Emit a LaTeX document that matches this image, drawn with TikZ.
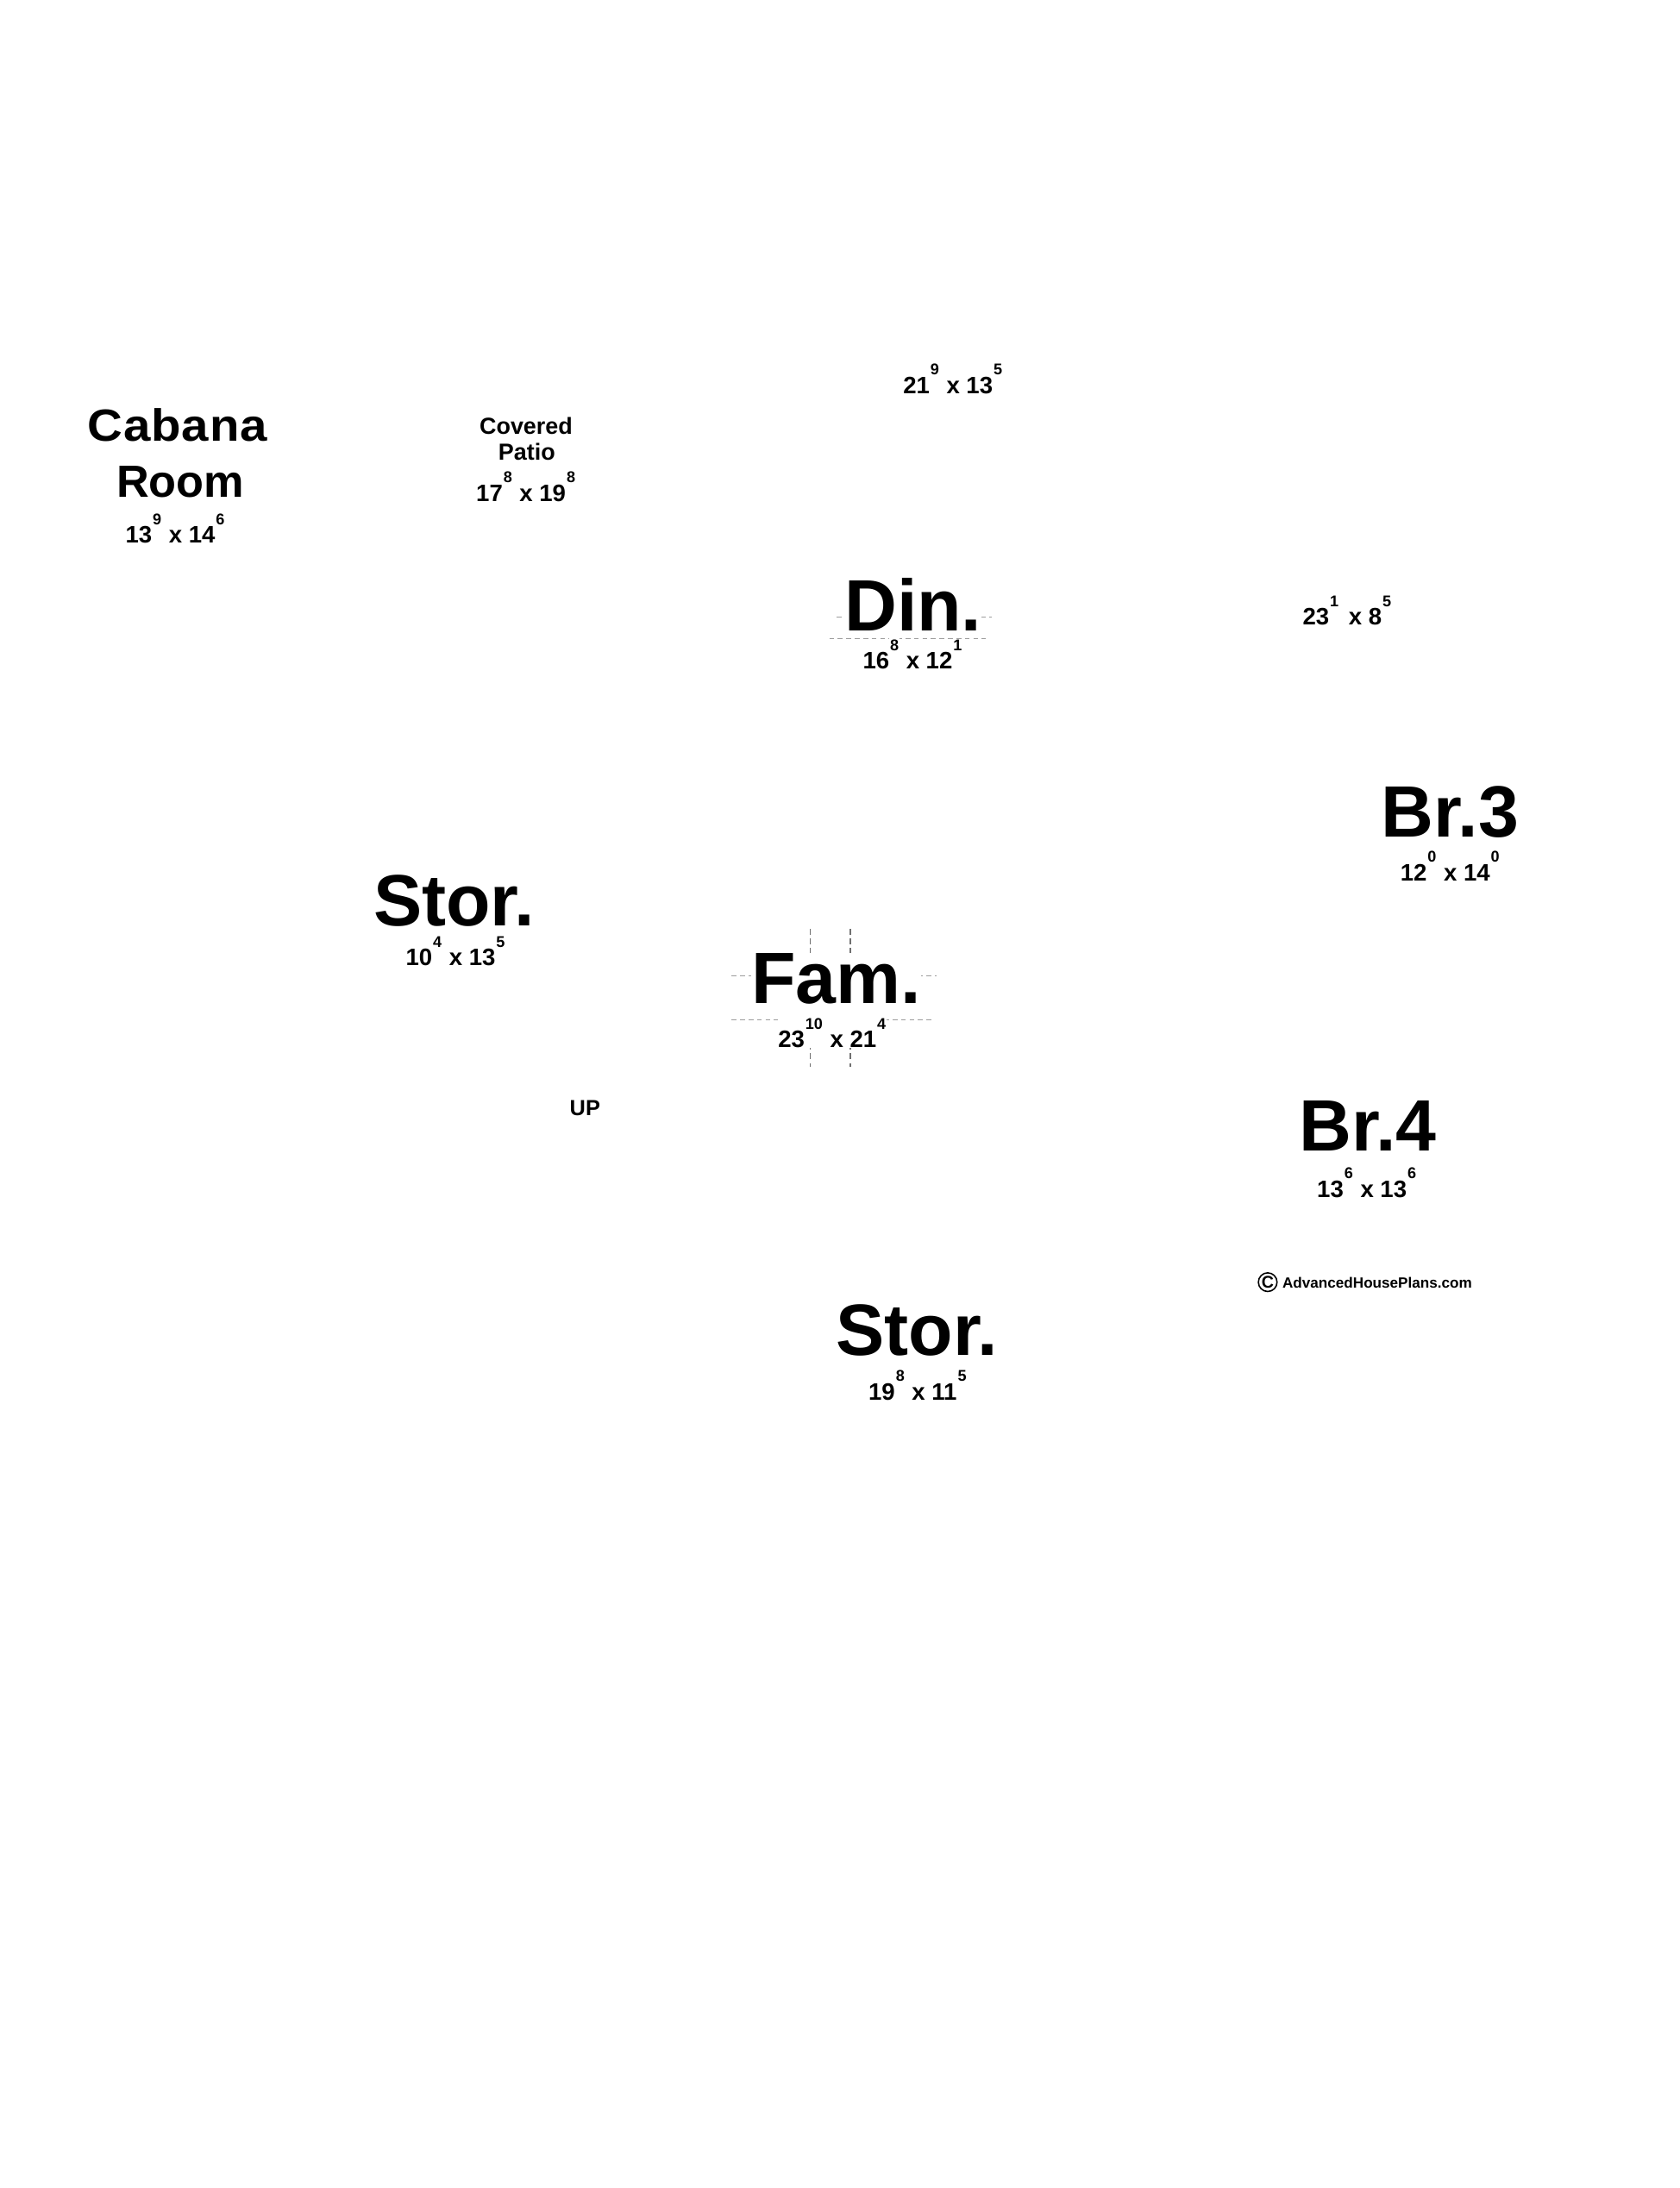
\documentclass[tikz,border=0pt]{standalone}
\usepackage{fontspec}
\setmainfont{Liberation Sans}
\usepackage{xcolor}
\usepackage{tikz}
\definecolor{ink}{HTML}{000000}
\definecolor{guide}{HTML}{9C9C9C}
\definecolor{guidedk}{HTML}{707070}
\newcommand{\dimsup}[1]{{\setlength{\fboxsep}{0.3pt}\raisebox{6.9pt}{\colorbox{white}{\fontsize{5.7}{6}\selectfont #1}}}}
\newcommand{\roomdim}[4]{#1\dimsup{#2} x #3\dimsup{#4}}
\tikzset{
  roombig/.style={text=ink, font=\fontsize{26.6}{30}\selectfont\bfseries, inner sep=0pt, anchor=base},
  roommid/.style={text=ink, font=\fontsize{16.5}{19}\selectfont\bfseries, inner sep=0pt, anchor=base},
  roomsm/.style={text=ink, font=\fontsize{8.5}{10}\selectfont\bfseries, inner sep=0pt, anchor=base},
  dimt/.style={text=ink, font=\fontsize{8.7}{10}\selectfont\bfseries, inner sep=0pt, anchor=base west},
  blank/.style={fill=white},
  guideh/.style={draw=guide, line width=0.4pt, dash pattern=on 1.8pt off 1.3pt},
  guidev/.style={draw=guidedk, line width=0.4pt, dash pattern=on 2pt off 1.5pt},
  credit/.style={text=ink, font=\fontsize{5.4}{6}\selectfont\bfseries, inner sep=0pt}
}

\begin{document}
\begin{tikzpicture}[x=0.018cm,y=-0.018cm]
  \useasboundingbox[fill=white] (0,0) rectangle (1200,1563);

  % guide lines behind Din. and Fam.
  \draw[guideh] (597.5,440.9) -- (708.4,440.9);
  \draw[guideh] (592.4,456.3) -- (704.2,456.3);
  \draw[guideh] (522.6,697.1) -- (669,697.1);
  \draw[guideh] (522.6,728.4) -- (667,728.4);
  \draw[guidev] (578.7,663.7) -- (578.7,761.8);
  \draw[guidev] (607.4,663.7) -- (607.4,761.8);

  % upper left
  \node[roommid] (cabana) at (126.8,315.2) {\addfontfeature{FakeStretch=1.08,LetterSpace=1.5}Cabana};
  \node[roommid] (room) at (128.8,355.3) {Room};
  \node[dimt] (cabanadim) at (89.3,388.1) {\roomdim{13}{9}{14}{6}};
  \node[roomsm] (covered) at (375.8,310.1) {Covered};
  \node[roomsm] (patio) at (376.3,328.5) {Patio};
  \node[dimt] (patiodim) at (339.8,358.3) {\roomdim{17}{8}{19}{8}};
  \node[dimt] (topdim) at (644.8,281.3) {\roomdim{21}{9}{13}{5}};

  % middle
  \node[roombig, blank] (din) at (652.3,450.7) {Din.};
  \node[dimt] (dindim) at (616,478) {\roomdim{16}{8}{12}{1}};
  \node[dimt] (sidedim) at (930.2,446.6) {\roomdim{23}{1\,}{8}{5}};
  \node[roombig] (brthree) at (1036,597.6) {Br.3};
  \node[dimt] (brthreedim) at (1000,629.4) {\roomdim{12}{0}{14}{0}};
  \node[roombig] (storA) at (324.5,661.2) {Stor.};
  \node[dimt] (storAdim) at (289.5,690) {\roomdim{10}{4}{13}{5}};
  \node[roombig, blank] (fam) at (597.5,716.6) {Fam.};
  \node[dimt, blank, text height=0.56cm, text depth=0pt] (famdim) at (555.5,748.5) {\roomdim{23}{10}{21}{4}};
  \node[roomsm, font=\fontsize{8}{10}\selectfont\bfseries] (up) at (417.9,796.6) {UP};

  % lower right
  \node[roombig] (brfour) at (977,822.4) {Br.4};
  \node[dimt] (brfourdim) at (940.5,855.3) {\roomdim{13}{6}{13}{6}};
  \node[credit, circle, draw=ink, line width=0.5pt, minimum size=0.24cm, font=\fontsize{6.2}{7}\selectfont\bfseries] (copyc) at (905.6,915.9) {C};
  \node[credit, anchor=base west] (site) at (915.8,920.4) {AdvancedHousePlans.com};
  \node[roombig] (storB) at (655,968.2) {Stor.};
  \node[dimt] (storBdim) at (620.1,1000) {\roomdim{19}{8}{11}{5}};
\end{tikzpicture}
\end{document}
